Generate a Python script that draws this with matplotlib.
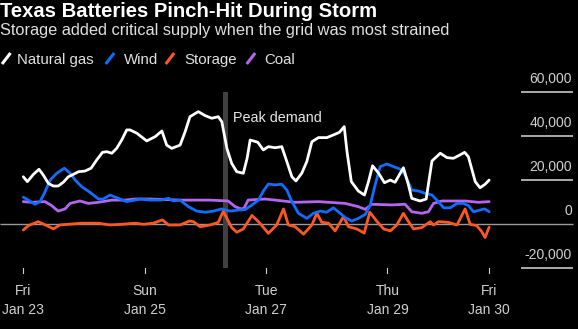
import matplotlib
matplotlib.use("Agg")
import matplotlib.pyplot as plt
from matplotlib.lines import Line2D

# ---------------- data (hours since Fri Jan 23 00:00, MW) ----------------
gas_h = [0, 1.6, 4.0, 6.2, 7.9, 9.9, 11.9, 13.8, 15.8, 17.8, 19.8, 21.8, 24.4, 26.8, 29.0,
         31.3, 33.0, 35.0, 36.9, 38.9, 40.9, 42.2, 44.9, 48.8, 52.1, 54.8, 56.7, 58.7, 62.0,
         64.0, 65.9, 69.2, 71.9, 74.5, 77.1, 78.5, 80.5, 82.4, 84.4, 87.0, 88.5, 89.7, 92.7,
         94.9, 96.9, 99.6, 102.2, 104.2, 106.2, 107.8, 110.1, 112.1, 114.1, 116.7, 120.0,
         122.6, 125.0, 126.9, 128.0, 129.7, 132.5, 134.9, 136.5, 138.1, 140.5, 142.8, 145.1,
         147.0, 150.3, 152.3, 153.6, 156.9, 159.3, 161.6, 164.9, 167.5, 170.1, 172.1, 174.5,
         176.0, 178.7, 180.6, 182.6, 184.2]
gas_v = [21600, 19400, 22700, 25000, 22400, 18600, 17400, 17400, 19100, 21600, 22700, 23900,
         24200, 25500, 29200, 32700, 33000, 32300, 34500, 38300, 42900, 42900, 41400, 37900,
         39800, 42400, 36000, 34500, 36000, 42100, 48900, 51200, 49400, 48200, 48900, 46600,
         34500, 27700, 23900, 23200, 30000, 38300, 37300, 33800, 35300, 34800, 35300, 28500,
         21600, 19700, 23200, 28500, 37500, 39400, 39400, 40600, 41800, 44400, 33000, 19400,
         15100, 13300, 19400, 26600, 23200, 18900, 20100, 19100, 25700, 17900, 11800, 10600,
         11500, 28800, 32300, 30300, 30000, 31200, 32700, 30700, 19400, 16600, 18200, 20100]

wind_h = [0, 2.0, 4.6, 6.6, 8.6, 10.6, 13.2, 16.2, 18.5, 20.5, 23.1, 26.4, 29.7, 31.6, 34.3,
          36.9, 40.9, 44.2, 46.2, 50.1, 54.1, 57.4, 59.3, 62.0, 65.3, 68.6, 71.9, 75.2, 78.5,
          81.8, 85.1, 87.7, 90.4, 93.0, 94.9, 96.9, 99.6, 102.2, 104.2, 106.2, 108.8, 112.1,
          114.7, 117.4, 120.0, 122.6, 125.3, 127.3, 129.9, 132.5, 135.2, 137.2, 139.1, 141.1,
          143.8, 146.4, 149.0, 151.0, 153.6, 156.3, 158.9, 161.6, 163.5, 166.2, 168.8, 171.5,
          174.1, 176.0, 178.0, 180.6, 182.4, 184.2]
wind_v = [12300, 11000, 9100, 10300, 14800, 20100, 23200, 25500, 23200, 20100, 17100, 14500,
          11500, 11500, 13300, 12100, 10300, 11000, 11500, 11000, 11000, 11800, 10600, 11000,
          8000, 6000, 5500, 6000, 7000, 6000, 6500, 6700, 8800, 11000, 15100, 18300, 17900,
          18200, 15600, 10300, 5000, 2700, 5000, 6000, 5500, 7500, 5000, 3000, 1500, 2700,
          4500, 8800, 17900, 26200, 27400, 26200, 25100, 22400, 15600, 15100, 14100, 13300,
          11000, 7500, 7500, 9500, 9500, 8500, 5700, 6500, 7000, 5700]

stor_h = [0, 2.0, 5.9, 9.3, 11.9, 14.5, 17.8, 23.1, 29.7, 34.3, 38.9, 44.2, 47.5, 51.4, 55.0,
          57.4, 62.0, 65.7, 67.3, 69.9, 73.9, 77.1, 79.1, 80.5, 82.4, 84.4, 87.0, 90.4, 93.0,
          96.9, 100.2, 102.9, 104.8, 107.5, 110.8, 114.1, 116.1, 118.0, 120.7, 123.3, 126.6,
          128.6, 131.9, 134.8, 137.0, 139.9, 142.5, 145.1, 147.7, 150.3, 152.3, 154.3, 157.6,
          160.9, 162.2, 164.2, 168.1, 171.5, 174.7, 176.7, 179.3, 181.3, 182.6, 184.2]
stor_v = [-2600, -600, 1200, -600, -2100, -300, 0, 500, 500, -300, 0, 500, 0, 500, 2000,
          -300, -300, 1500, 1200, -1100, -300, 900, 6000, 2700, -1500, -3600, -2100, 4000,
          1200, -4100, -300, 7000, -300, -1100, -4500, -300, 5000, 900, 500, -3000, 3500,
          -1100, -2100, -4000, 5500, 1200, -2100, -3000, -300, 5000, 1200, -2100, -1500, 1200,
          -300, 1200, 900, -300, 7000, 0, -600, -3400, -6000, -1300]

coal_h = [0, 3.3, 8.6, 11.2, 13.8, 16.5, 18.5, 22.4, 25.7, 29.7, 35.0, 40.2, 44.2, 50.1, 62.0,
          73.9, 81.0, 83.8, 86.1, 87.3, 88.9, 95.6, 107.5, 116.7, 127.3, 132.5, 135.2, 137.8,
          145.7, 151.0, 153.6, 157.6, 160.2, 162.2, 165.5, 174.7, 180.0, 184.2]
coal_v = [10300, 10000, 10300, 8500, 6000, 7000, 9500, 10600, 9500, 10000, 11000, 11000,
          11500, 11500, 11000, 11000, 10600, 8000, 7000, 7300, 11000, 11500, 10000, 10300,
          9500, 8000, 6800, 9100, 8800, 9100, 5700, 5000, 5700, 9500, 10600, 10600, 10000, 10300]

series_names = ["Natural gas", "Wind", "Storage", "Coal"]
series_colors = ["#ffffff", "#0f6dff", "#ff5722", "#b565f0"]

x_tick_hours = [0, 48, 96, 144, 184.2]
x_tick_labels = [("Fri", "Jan 23"), ("Sun", "Jan 25"), ("Tue", "Jan 27"),
                 ("Thu", "Jan 29"), ("Fri", "Jan 30")]
y_ticks = [60000, 40000, 20000, 0, -20000]
y_tick_labels = ["60,000", "40,000", "20,000", "0", "-20,000"]

peak_hour = 79.9
peak_label = "Peak demand"
title = "Texas Batteries Pinch-Hit During Storm"
subtitle = "Storage added critical supply when the grid was most strained"

# ---------------- layout ----------------
W, H = 578, 329
plt.rcParams['font.family'] = ['Liberation Sans', 'DejaVu Sans']
fig = plt.figure(figsize=(W / 100, H / 100), dpi=100, facecolor="black")

X0_PX = 23.3          # pixel of hour 0
PX_PER_H = 2.529
ZERO_PX = 224.3       # pixel of value 0
V_PER_PX = 454.5

ax = fig.add_axes([0, 0, 1, 1], facecolor="black")
ax.set_xlim(-X0_PX / PX_PER_H, (W - X0_PX) / PX_PER_H)
ax.set_ylim((ZERO_PX - H) * V_PER_PX, ZERO_PX * V_PER_PX)
ax.axis("off")

def fx(px):
    return px / W

def fy(py):
    return 1 - py / H

# grid / zero line
ytr = ax.get_yaxis_transform()
for v in y_ticks:
    x_start = 0.0 if v == 0 else fx(521)
    col = "#9a9a9a" if v == 0 else "#c8c8c8"
    ax.plot([x_start, fx(573)], [v, v], transform=ytr, color=col, lw=1.0 if v == 0 else 1.2,
            zorder=1, solid_capstyle="butt")
for v, lab in zip(y_ticks, y_tick_labels):
    ax.annotate(lab, xy=(fx(572), v), xycoords=ytr, xytext=(0, 6.5), textcoords="offset points",
                ha="right", va="baseline", color="#d0d0d0", fontsize=10)

# peak demand bar
ax.bar([peak_hour], [y_ticks[0] - y_ticks[-1]], bottom=y_ticks[-1], width=5.3 / PX_PER_H,
       color="#3f3f3f", zorder=2)
fig.text(fx(233.3), fy(121.7), peak_label, color="#e6e6e6", fontsize=10.4, va="baseline",
         ha="left")

# series
data = [(gas_h, gas_v), (wind_h, wind_v), (stor_h, stor_v), (coal_h, coal_v)]
zorders = [7, 6, 4, 5]
for (hh, vv), c, z in zip(data, series_colors, zorders):
    ax.plot(hh, vv, color=c, lw=2.0, zorder=z, solid_joinstyle="round",
            solid_capstyle="round")

# x ticks
tick_len_v = 5 * V_PER_PX
for h, (d1, d2) in zip(x_tick_hours, x_tick_labels):
    ax.plot([h, h], [y_ticks[-1], y_ticks[-1] - tick_len_v], color="#cfcfcf", lw=0.8)
    ax.text(h, (ZERO_PX - 295) * V_PER_PX, d1, ha="center", va="baseline",
            color="#d0d0d0", fontsize=10)
    ax.text(h, (ZERO_PX - 314) * V_PER_PX, d2, ha="center", va="baseline",
            color="#d0d0d0", fontsize=10)

# titles
fig.text(fx(0.5), fy(17), title, color="white", fontsize=14.6, fontweight="bold",
         va="baseline", ha="left")
fig.text(fx(0.5), fy(35.5), subtitle, color="#e0e0e0", fontsize=11.8, va="baseline", ha="left")

# legend
icon_x = [2, 105.7, 165.7, 246.7]
text_x = [17.3, 124, 184, 264]
for name, c, ix, tx in zip(series_names, series_colors, icon_x, text_x):
    fig.add_artist(Line2D([fx(ix), fx(ix + 8.5)], [fy(64), fy(53)], color=c, lw=2.2,
                          transform=fig.transFigure, solid_capstyle="butt"))
    fig.text(fx(tx), fy(64), name, color="#e0e0e0", fontsize=10.8, va="baseline", ha="left")

fig.savefig("out.png", dpi=100, facecolor="black")
